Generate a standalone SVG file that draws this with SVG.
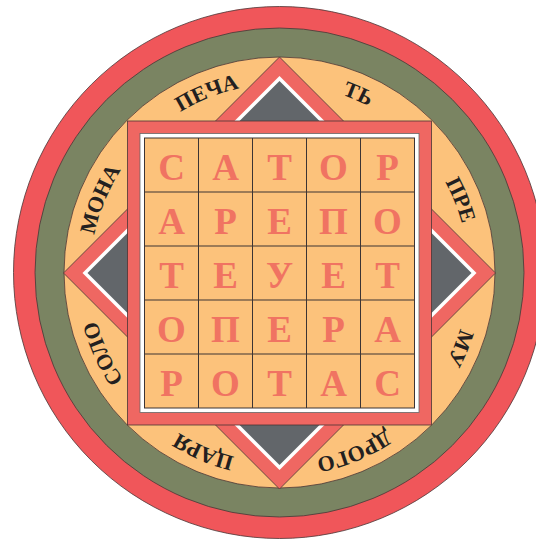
<svg xmlns="http://www.w3.org/2000/svg" width="536" height="541" viewBox="0 0 536 541">
<style>
.ln{stroke:#4a3636;stroke-width:0.8}
.cell{font-family:"Liberation Serif","DejaVu Serif",serif;font-weight:bold;font-size:37px;fill:#f07362;text-anchor:middle}
.ring{font-family:"Liberation Serif","DejaVu Serif",serif;font-weight:bold;font-size:22px;fill:#231f20}
</style>
<defs>
<path id="arc" d="M279.5,84 A189,189 0 1 1 279.5,462 A189,189 0 1 1 279.5,84"/>
</defs>
<rect width="536" height="541" fill="#ffffff"/>
<g id="rings">
<circle cx="279.5" cy="272.5" r="266" fill="#f0565a" class="ln"/>
<circle cx="279.5" cy="272.5" r="244.5" fill="#7a8462" class="ln"/>
<circle cx="279.5" cy="272.5" r="215.5" fill="#fcc27b" class="ln"/>
</g>
<g id="diamond">
<polygon points="279.5,57 495.5,273 279.5,489 63.5,273" fill="#ef6762" class="ln"/>
<polygon points="279.5,76 476.5,273 279.5,470 82.5,273" fill="#ffffff"/>
<polygon points="279.5,81 471.5,273 279.5,465 87.5,273" fill="#62666a"/>
</g>
<g id="square">
<rect x="127.5" y="121" width="304" height="304" fill="#ef6762" class="ln"/>
<rect x="140" y="133.5" width="279" height="279" fill="#ffffff" stroke="#666" stroke-width="0.8"/>
<rect x="144.5" y="138" width="270" height="270" fill="#fcc27b" stroke="#3c3434" stroke-width="1"/>
<g stroke="#3c3434" stroke-width="1">
<line x1="198.5" y1="138" x2="198.5" y2="408"/>
<line x1="252.5" y1="138" x2="252.5" y2="408"/>
<line x1="306.5" y1="138" x2="306.5" y2="408"/>
<line x1="360.5" y1="138" x2="360.5" y2="408"/>
<line x1="144.5" y1="192" x2="414.5" y2="192"/>
<line x1="144.5" y1="246" x2="414.5" y2="246"/>
<line x1="144.5" y1="300" x2="414.5" y2="300"/>
<line x1="144.5" y1="354" x2="414.5" y2="354"/>
</g>
</g>
<g id="grid-letters">
<text class="cell" x="171.5" y="180">С</text><text class="cell" x="225.5" y="180">А</text><text class="cell" x="279.5" y="180">Т</text><text class="cell" x="333.5" y="180">О</text><text class="cell" x="387.5" y="180">Р</text>
<text class="cell" x="171.5" y="234">А</text><text class="cell" x="225.5" y="234">Р</text><text class="cell" x="279.5" y="234">Е</text><text class="cell" x="333.5" y="234">П</text><text class="cell" x="387.5" y="234">О</text>
<text class="cell" x="171.5" y="288">Т</text><text class="cell" x="225.5" y="288">Е</text><text class="cell" x="279.5" y="288">У</text><text class="cell" x="333.5" y="288">Е</text><text class="cell" x="387.5" y="288">Т</text>
<text class="cell" x="171.5" y="342">О</text><text class="cell" x="225.5" y="342">П</text><text class="cell" x="279.5" y="342">Е</text><text class="cell" x="333.5" y="342">Р</text><text class="cell" x="387.5" y="342">А</text>
<text class="cell" x="171.5" y="396">Р</text><text class="cell" x="225.5" y="396">О</text><text class="cell" x="279.5" y="396">Т</text><text class="cell" x="333.5" y="396">А</text><text class="cell" x="387.5" y="396">С</text>
</g>
<g id="ring-text" class="ring" text-anchor="middle">
<text><textPath href="#arc" startOffset="6.6%">ТЬ</textPath></text>
<text><textPath href="#arc" startOffset="18.9%">ПРЕ</textPath></text>
<text><textPath href="#arc" startOffset="31.3%">МУ</textPath></text>
<text><textPath href="#arc" startOffset="43.7%">ДРОГО</textPath></text>
<text><textPath href="#arc" startOffset="56.4%">ЦАРЯ</textPath></text>
<text><textPath href="#arc" startOffset="68.2%">СОЛО</textPath></text>
<text><textPath href="#arc" startOffset="81.2%">МОНА</textPath></text>
<text><textPath href="#arc" startOffset="93.9%">ПЕЧА</textPath></text>
</g>
</svg>
